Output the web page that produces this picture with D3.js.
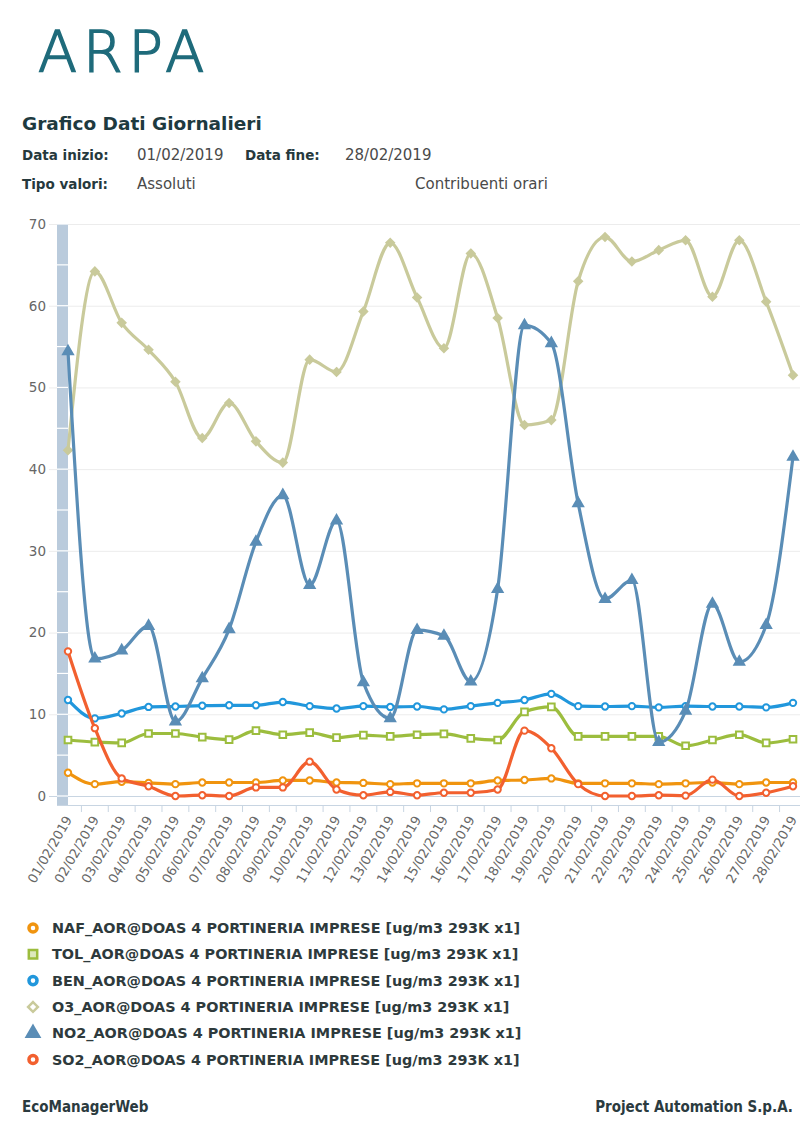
<!DOCTYPE html>
<html>
<head>
<meta charset="utf-8">
<script src="https://d3js.org/d3.v7.min.js"></script>
<style>
  body { margin: 0; background: #fff; }
  text { font-family: "DejaVu Sans", Verdana, sans-serif; }
</style>
</head>
<body>
<div id="vis"></div>
<script>
  // daily values
  var dates = ['01/02/2019', '02/02/2019', '03/02/2019', '04/02/2019', '05/02/2019', '06/02/2019', '07/02/2019',
    '08/02/2019', '09/02/2019', '10/02/2019', '11/02/2019', '12/02/2019', '13/02/2019', '14/02/2019',
    '15/02/2019', '16/02/2019', '17/02/2019', '18/02/2019', '19/02/2019', '20/02/2019', '21/02/2019',
    '22/02/2019', '23/02/2019', '24/02/2019', '25/02/2019', '26/02/2019', '27/02/2019', '28/02/2019'];

  var naf = [2.85, 1.45, 1.75, 1.6, 1.45, 1.65, 1.65, 1.65, 1.9, 1.9, 1.65, 1.6, 1.45, 1.55,
    1.55, 1.55, 1.9, 1.95, 2.15, 1.55, 1.55, 1.55, 1.45, 1.55, 1.65, 1.45, 1.65, 1.65];
  var tol = [6.85, 6.6, 6.5, 7.65, 7.65, 7.2, 6.9, 8.0, 7.5, 7.75, 7.15, 7.45, 7.3, 7.5,
    7.6, 7.05, 6.85, 10.3, 10.9, 7.3, 7.3, 7.3, 7.3, 6.15, 6.85, 7.5, 6.5, 6.95];
  var ben = [11.75, 9.5, 10.1, 10.9, 10.95, 11.05, 11.1, 11.1, 11.5, 11.0, 10.7, 11.0, 10.9, 10.95,
    10.6, 11.0, 11.4, 11.75, 12.5, 11.0, 10.95, 11.0, 10.85, 11.0, 10.95, 10.95, 10.85, 11.4];
  var o3 = [42.3, 64.2, 57.9, 54.6, 50.7, 43.8, 48.1, 43.4, 40.8, 53.4, 51.9, 59.3, 67.7, 61.0,
    54.8, 66.4, 58.5, 45.4, 46.0, 63.0, 68.4, 65.4, 66.8, 68.0, 61.1, 68.0, 60.5, 51.5];
  var no2 = [54.4, 16.8, 17.8, 20.8, 9.1, 14.4, 20.4, 31.1, 36.8, 25.8, 33.7, 13.9, 9.5, 20.3,
    19.6, 14.0, 25.3, 57.6, 55.4, 35.8, 24.1, 26.4, 6.6, 10.4, 23.5, 16.4, 20.9, 41.5];
  var so2 = [17.7, 8.3, 2.15, 1.2, 0, 0.1, 0, 1.05, 1.05, 4.2, 0.8, 0.1, 0.5, 0.1,
    0.4, 0.4, 0.8, 8.0, 5.85, 1.45, 0, 0, 0.1, 0.05, 2.0, 0, 0.4, 1.2];

  var seriesNames = ['NAF_AOR@DOAS 4 PORTINERIA IMPRESE [ug/m3 293K x1]',
    'TOL_AOR@DOAS 4 PORTINERIA IMPRESE [ug/m3 293K x1]',
    'BEN_AOR@DOAS 4 PORTINERIA IMPRESE [ug/m3 293K x1]',
    'O3_AOR@DOAS 4 PORTINERIA IMPRESE [ug/m3 293K x1]',
    'NO2_AOR@DOAS 4 PORTINERIA IMPRESE [ug/m3 293K x1]',
    'SO2_AOR@DOAS 4 PORTINERIA IMPRESE [ug/m3 293K x1]'];
  var yTicks = [0, 10, 20, 30, 40, 50, 60, 70];

  var series = [
    { name: seriesNames[0], values: naf, color: '#f0940f', symbol: 'circle', filled: false },
    { name: seriesNames[1], values: tol, color: '#9cbd3e', symbol: 'square', filled: false },
    { name: seriesNames[2], values: ben, color: '#2197dc', symbol: 'circle', filled: false },
    { name: seriesNames[3], values: o3, color: '#c9ca9b', symbol: 'diamond', filled: true },
    { name: seriesNames[4], values: no2, color: '#5a8db6', symbol: 'triangle', filled: true },
    { name: seriesNames[5], values: so2, color: '#f2602f', symbol: 'circle', filled: false }
  ];

  var W = 800, H = 1137;
  var svg = d3.select('#vis').append('svg')
    .attr('width', W)
    .attr('height', H);

  // header
  svg.append('text')
    .attr('x', 38).attr('y', 72)
    .style('font-size', '57px').style('font-weight', 200).style('letter-spacing', '6px')
    .attr('fill', '#1f6b7b').attr('stroke', '#1f6b7b').attr('stroke-width', 1.6)
    .text('ARPA');

  svg.append('text').attr('x', 22).attr('y', 130)
    .style('font-size', '18.5px').style('font-weight', 'bold').attr('fill', '#1e3a3f')
    .text('Grafico Dati Giornalieri');

  function info(x, y, txt, bold) {
    svg.append('text').attr('x', x).attr('y', y)
      .style('font-size', bold ? '13.5px' : '15px')
      .style('font-weight', bold ? 'bold' : 'normal')
      .attr('fill', bold ? '#26393d' : '#4a4a4a')
      .text(txt);
  }
  info(22, 160, 'Data inizio:', true);
  info(137, 160, '01/02/2019', false);
  info(245, 160, 'Data fine:', true);
  info(345, 160, '28/02/2019', false);
  info(22, 189, 'Tipo valori:', true);
  info(137, 189, 'Assoluti', false);
  info(415, 189, 'Contribuenti orari', false);

  // scales
  var x = d3.scalePoint().domain(dates).range([68, 793]);
  var step = x.step();
  var xBand = d3.scaleBand().domain(dates).range([68 - step / 2, 793 + step / 2]);
  var y = d3.scaleLinear().domain([0, 70]).range([796, 224]);

  // grid
  svg.append('g')
    .call(d3.axisLeft(y).tickValues(yTicks).tickSize(0).tickPadding(0))
    .call(function(g) { g.select('.domain').remove(); })
    .call(function(g) {
      g.selectAll('.tick text').attr('x', 46).attr('dy', '0.32em')
        .style('font-size', '13.5px').attr('fill', '#666');
      g.selectAll('.tick line').attr('x1', 49).attr('x2', 800)
        .attr('stroke', function(d) { return d === 0 ? '#c8d5e2' : '#ececec'; })
        .attr('stroke-width', 1);
    });

  // band along the y axis
  svg.append('rect')
    .attr('x', 57).attr('y', y(70)).attr('width', 11).attr('height', 805 - y(70))
    .attr('fill', '#bacbdc');
  svg.append('g').selectAll('line')
    .data(d3.range(0, 71, 5))
    .enter().append('line')
    .attr('x1', 57).attr('x2', 68)
    .attr('y1', function(d) { return y(d); }).attr('y2', function(d) { return y(d); })
    .attr('stroke', '#ffffff').attr('stroke-width', 1.2);

  // x axis
  svg.append('line').attr('x1', 57).attr('x2', 800).attr('y1', 805.5).attr('y2', 805.5)
    .attr('stroke', '#c8d5e2');
  svg.append('g').selectAll('line')
    .data(dates.slice(1))
    .enter().append('line')
    .attr('x1', function(d) { return xBand(d); }).attr('x2', function(d) { return xBand(d); })
    .attr('y1', 805).attr('y2', 812)
    .attr('stroke', '#c8d5e2');

  svg.append('g')
    .attr('transform', 'translate(0,817)')
    .call(d3.axisBottom(x).tickSize(0).tickPadding(0))
    .call(function(g) { g.select('.domain').remove(); })
    .selectAll('text')
    .attr('y', 0).attr('dy', '0.35em').attr('x', 0)
    .attr('text-anchor', 'end')
    .attr('transform', 'rotate(-60)')
    .style('font-size', '13px').attr('fill', '#666');

  // lines and markers
  var line = d3.line()
    .x(function(d, i) { return x(dates[i]); })
    .y(function(d) { return y(d); })
    .curve(d3.curveMonotoneX);

  var symbolType = {
    circle: d3.symbolCircle,
    square: d3.symbolSquare,
    diamond: d3.symbolDiamond2 || d3.symbolDiamond,
    triangle: d3.symbolTriangle
  };
  var symbolSize = { circle: 32, square: 44, diamond: 38, triangle: 42 };

  series.forEach(function(s) {
    var g = svg.append('g');
    g.append('path')
      .attr('d', line(s.values))
      .attr('fill', 'none')
      .attr('stroke', s.color)
      .attr('stroke-width', 3.2)
      .attr('stroke-linejoin', 'round');
    g.selectAll('path.pt')
      .data(s.values)
      .enter().append('path')
      .attr('class', 'pt')
      .attr('transform', function(d, i) { return 'translate(' + x(dates[i]) + ',' + y(d) + ')'; })
      .attr('d', d3.symbol().type(symbolType[s.symbol]).size(symbolSize[s.symbol]))
      .attr('fill', s.filled ? s.color : '#fff')
      .attr('stroke', s.color)
      .attr('stroke-width', 2);
  });

  // legend
  var legend = svg.append('g').selectAll('g')
    .data(series)
    .enter().append('g')
    .attr('transform', function(d, i) { return 'translate(33,' + (928 + i * 26.3) + ')'; });

  legend.append('path')
    .attr('d', function(d) {
      return d3.symbol().type(symbolType[d.symbol]).size(symbolSize[d.symbol] * 1.6)();
    })
    .attr('fill', function(d) { return d.filled ? (d.symbol === 'diamond' ? '#fff' : d.color) : (d.symbol === 'square' ? '#dde9bd' : '#fff'); })
    .attr('stroke', function(d) { return d.color; })
    .attr('stroke-width', function(d) { return d.symbol === 'circle' ? 3.5 : 2.5; });

  legend.append('text')
    .attr('x', 19).attr('y', 0).attr('dy', '0.36em')
    .style('font-size', '14.4px').style('font-weight', 'bold')
    .attr('fill', '#2e3a3c')
    .text(function(d) { return d.name; });

  // footer
  svg.append('text').attr('x', 22).attr('y', 1112)
    .style('font-size', '15px').style('font-weight', 'bold').attr('fill', '#2b3b3f')
    .style('font-family', '"DejaVu Sans Condensed", "DejaVu Sans", sans-serif')
    .text('EcoManagerWeb');
  svg.append('text').attr('x', 793).attr('y', 1112).attr('text-anchor', 'end')
    .style('font-size', '15px').style('font-weight', 'bold').attr('fill', '#2b3b3f')
    .style('font-family', '"DejaVu Sans Condensed", "DejaVu Sans", sans-serif')
    .text('Project Automation S.p.A.');
</script>
</body>
</html>
